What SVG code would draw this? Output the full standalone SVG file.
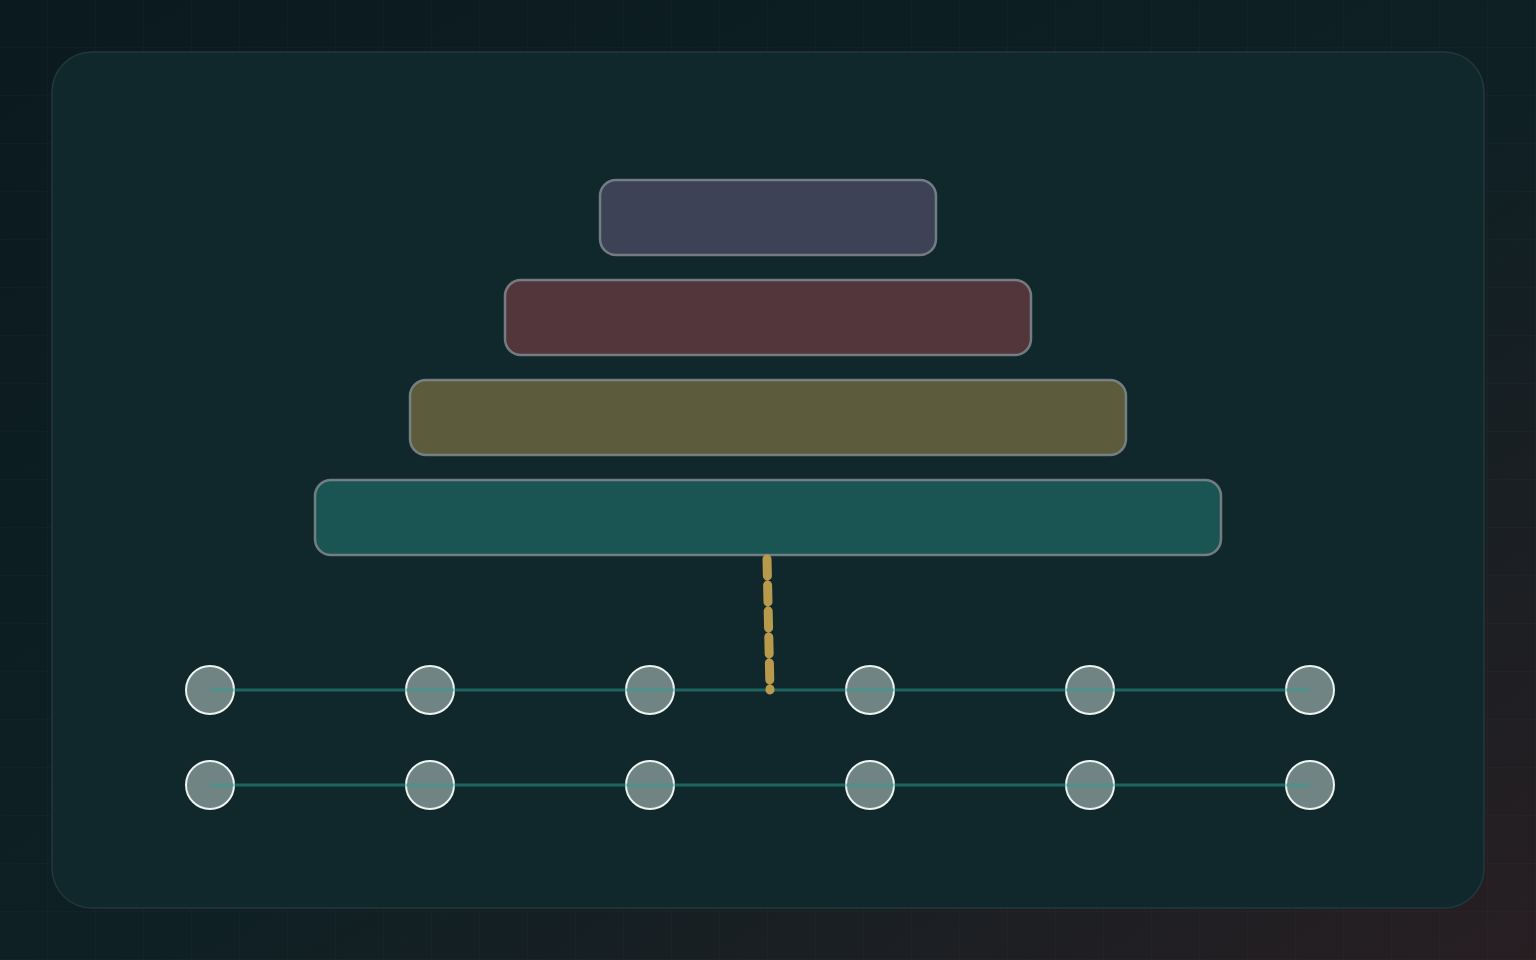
<svg xmlns="http://www.w3.org/2000/svg" width="1536" height="960" viewBox="0 0 1536 960">
  <defs>
    <linearGradient id="bg" x1="0" y1="0" x2="1" y2="1">
      <stop offset="0" stop-color="#0a1a1f"/>
      <stop offset="0.55" stop-color="#0f2024"/>
      <stop offset="1" stop-color="#271e22"/>
    </linearGradient>
    <pattern id="grid" width="48" height="48" patternUnits="userSpaceOnUse">
      <path d="M48 0 V48 M0 48 H48" fill="none" stroke="#ffffff" stroke-opacity="0.03" stroke-width="1"/>
    </pattern>
    <style>
      .bar { stroke: #818a8e; stroke-opacity: 0.85; stroke-width: 2.5; }
      .track { stroke: #2aa094; stroke-opacity: 0.5; stroke-width: 3; fill: none; }
      .dot { fill: #cfe0dc; fill-opacity: 0.5; stroke: #eef4f2; stroke-width: 2; }
      .link { stroke: #b89a4c; stroke-width: 9; stroke-linecap: round; stroke-dasharray: 17 9; fill: none; }
    </style>
  </defs>
  <rect x="0" y="0" width="1536" height="960" fill="url(#bg)"/>
  <rect x="0" y="0" width="1536" height="960" fill="url(#grid)"/>
  <rect id="panel" x="52" y="52" width="1432" height="856" rx="40" fill="#10282b" stroke="#21393c" stroke-width="1.5"/>

  <g id="layer-1"><rect class="bar" x="600" y="180" width="336" height="75" rx="16" fill="#3d4256"/></g>
  <g id="layer-2"><rect class="bar" x="505" y="280" width="526" height="75" rx="16" fill="#52363b"/></g>
  <g id="layer-3"><rect class="bar" x="410" y="380" width="716" height="75" rx="16" fill="#5c5c3c"/></g>
  <g id="layer-4"><rect class="bar" x="315" y="480" width="906" height="75" rx="16" fill="#1b5553"/></g>

  <g id="row-1-nodes">
    <circle class="dot" cx="210" cy="690" r="24"/>
    <circle class="dot" cx="430" cy="690" r="24"/>
    <circle class="dot" cx="650" cy="690" r="24"/>
    <circle class="dot" cx="870" cy="690" r="24"/>
    <circle class="dot" cx="1090" cy="690" r="24"/>
    <circle class="dot" cx="1310" cy="690" r="24"/>
  </g>
  <g id="row-2-nodes">
    <circle class="dot" cx="210" cy="785" r="24"/>
    <circle class="dot" cx="430" cy="785" r="24"/>
    <circle class="dot" cx="650" cy="785" r="24"/>
    <circle class="dot" cx="870" cy="785" r="24"/>
    <circle class="dot" cx="1090" cy="785" r="24"/>
    <circle class="dot" cx="1310" cy="785" r="24"/>
  </g>

  <g id="connectors">
    <line class="track" x1="210" y1="690" x2="1310" y2="690"/>
    <line class="track" x1="210" y1="785" x2="1310" y2="785"/>
    <path class="link" d="M767 559 L770 690"/>
  </g>
</svg>
